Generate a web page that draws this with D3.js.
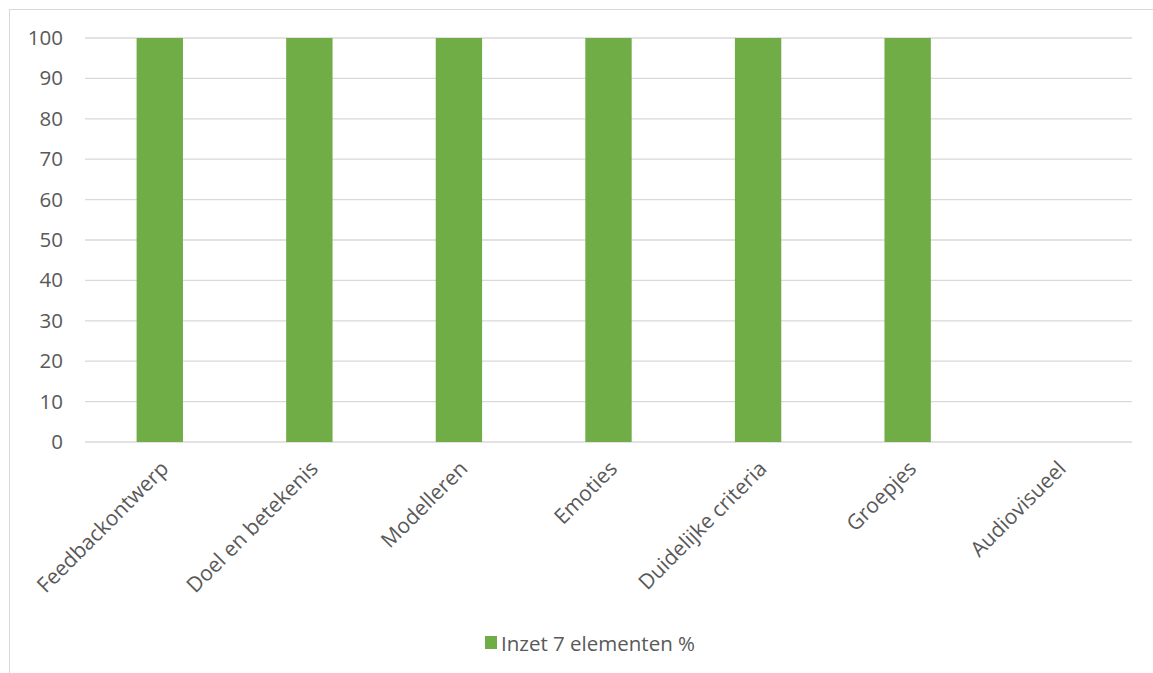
<!DOCTYPE html>
<html>
<head>
<meta charset="utf-8">
<script src="https://cdn.jsdelivr.net/npm/d3@7"></script>
<style>
  html, body { margin: 0; padding: 0; background: #fff; }
  svg { display: block; font-family: "Open Sans", "Liberation Sans", sans-serif; }
</style>
</head>
<body>
<svg id="chart" width="1153" height="673"></svg>
<script>
// Share of teachers using each of the 7 feedback elements (%)
const categories = ["Feedbackontwerp", "Doel en betekenis", "Modelleren", "Emoties", "Duidelijke criteria", "Groepjes", "Audiovisueel"];
const values = [100, 100, 100, 100, 100, 100, 0];
const yTicks = [0, 10, 20, 30, 40, 50, 60, 70, 80, 90, 100];
const seriesName = "Inzet 7 elementen %";

const svg = d3.select("#chart");
const W = 1153, H = 673;
const m = { left: 85, right: 21, top: 38, bottom: 231 };
const green = "#70ad47", textCol = "#595959", gridCol = "#d9d9d9";
const fontFamily = "'Open Sans', 'Liberation Sans', sans-serif";
const fontSize = "20.5px";

// chart frame
svg.append("rect").attr("x", 9.5).attr("y", 9.5).attr("width", W + 10).attr("height", H + 10)
  .attr("fill", "none").attr("stroke", "#d9d9d9");

const x = d3.scaleBand().domain(categories).range([m.left, W - m.right]).paddingInner(0.69).paddingOuter(0.345);
const y = d3.scaleLinear().domain([0, 100]).range([H - m.bottom, m.top]);

// gridlines
svg.append("g").selectAll("line").data(yTicks).join("line")
  .attr("x1", m.left).attr("x2", W - m.right)
  .attr("y1", d => y(d)).attr("y2", d => y(d))
  .attr("stroke", gridCol).attr("stroke-width", 1.3);

// y axis labels
const yAxis = svg.append("g").attr("transform", `translate(${m.left - 22},0)`)
  .call(d3.axisLeft(y).tickValues(yTicks).tickSize(0).tickPadding(0));
yAxis.select(".domain").remove();
yAxis.selectAll("text").attr("fill", textCol).style("font-size", fontSize)
  .style("font-family", fontFamily);

// bars
svg.append("g").selectAll("rect").data(categories).join("rect")
  .attr("x", d => x(d)).attr("width", x.bandwidth())
  .attr("y", (d, i) => y(values[i])).attr("height", (d, i) => y(0) - y(values[i]))
  .attr("fill", green);

// category labels, rotated
const xAxis = svg.append("g").attr("transform", `translate(0,${y(0)})`)
  .call(d3.axisBottom(x).tickSize(0).tickPadding(0));
xAxis.select(".domain").remove();
xAxis.selectAll("text")
  .attr("fill", textCol).style("font-size", "21px")
  .style("font-family", fontFamily)
  .attr("text-anchor", "end")
  .attr("dy", null).attr("y", 0)
  .attr("transform", "translate(10,28) rotate(-45)");

// legend
const lg = svg.append("g").attr("transform", "translate(485,636)");
lg.append("rect").attr("width", 12).attr("height", 13).attr("fill", green);
lg.append("text").attr("x", 16).attr("y", 15).attr("fill", textCol)
  .style("font-size", fontSize).style("font-family", fontFamily).text(seriesName);
</script>
</body>
</html>
